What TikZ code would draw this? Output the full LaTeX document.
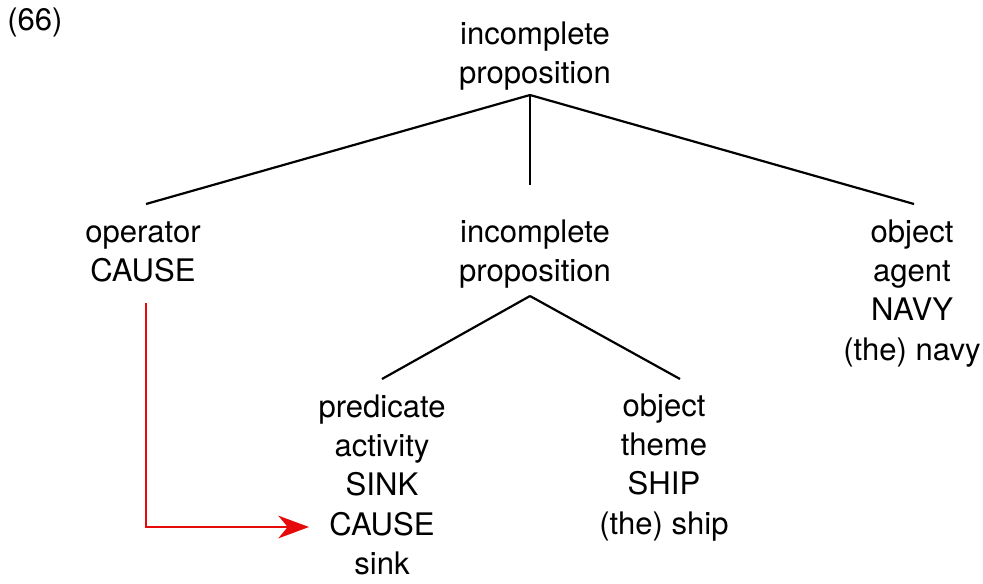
\documentclass[tikz,border=0pt]{standalone}
\usepackage{fontspec}
\setmainfont{TeX Gyre Heros}
\usetikzlibrary{arrows.meta}
\newcommand{\lines}[1]{\begin{tabular}[t]{@{}c@{}}#1\end{tabular}}
\definecolor{arrowred}{RGB}{230,10,10}
\begin{document}
\begin{tikzpicture}[x=0.75pt,y=-0.75pt,
  lbl/.style={inner sep=0pt,anchor=base,font=\fontsize{23.3}{29.6}\selectfont},
  branch/.style={line width=1.65pt,black},
  redarrow/.style={line width=1.65pt,arrowred,-{Stealth[length=23pt,width=17pt,inset=7pt]}}]
\useasboundingbox (0,0) rectangle (983,583);
% example number
\node[lbl,anchor=base west] (num) at (7,30) {(66)};
% tree nodes
\node[lbl] (top) at (535,44) {\lines{incomplete\\proposition}};
\node[lbl] (op) at (143,242) {\lines{operator\\CAUSE}};
\node[lbl] (mid) at (535,242) {\lines{incomplete\\proposition}};
\node[lbl] (agt) at (912,242) {\lines{object\\agent\\NAVY\\(the) navy}};
\node[lbl] (pred) at (382,417) {\lines{predicate\\activity\\SINK\\CAUSE\\sink}};
\node[lbl] (thm) at (664,416) {\lines{object\\theme\\SHIP\\(the) ship}};
% branch end points
\coordinate (topfoot) at (530,95);
\coordinate (midfoot) at (530,296);
\coordinate (opneck) at (146,204);
\coordinate (midneck) at (530,185);
\coordinate (agtneck) at (914,204);
\coordinate (predneck) at (382,379);
\coordinate (thmneck) at (680,379);
\draw[branch] (topfoot) -- (opneck);
\draw[branch] (topfoot) -- (midneck);
\draw[branch] (topfoot) -- (agtneck);
\draw[branch] (midfoot) -- (predneck);
\draw[branch] (midfoot) -- (thmneck);
% operator link
\coordinate (opfoot) at (146,303);
\coordinate (predarrow) at (309,527);
\draw[redarrow] (opfoot) |- (predarrow);
\end{tikzpicture}
\end{document}
